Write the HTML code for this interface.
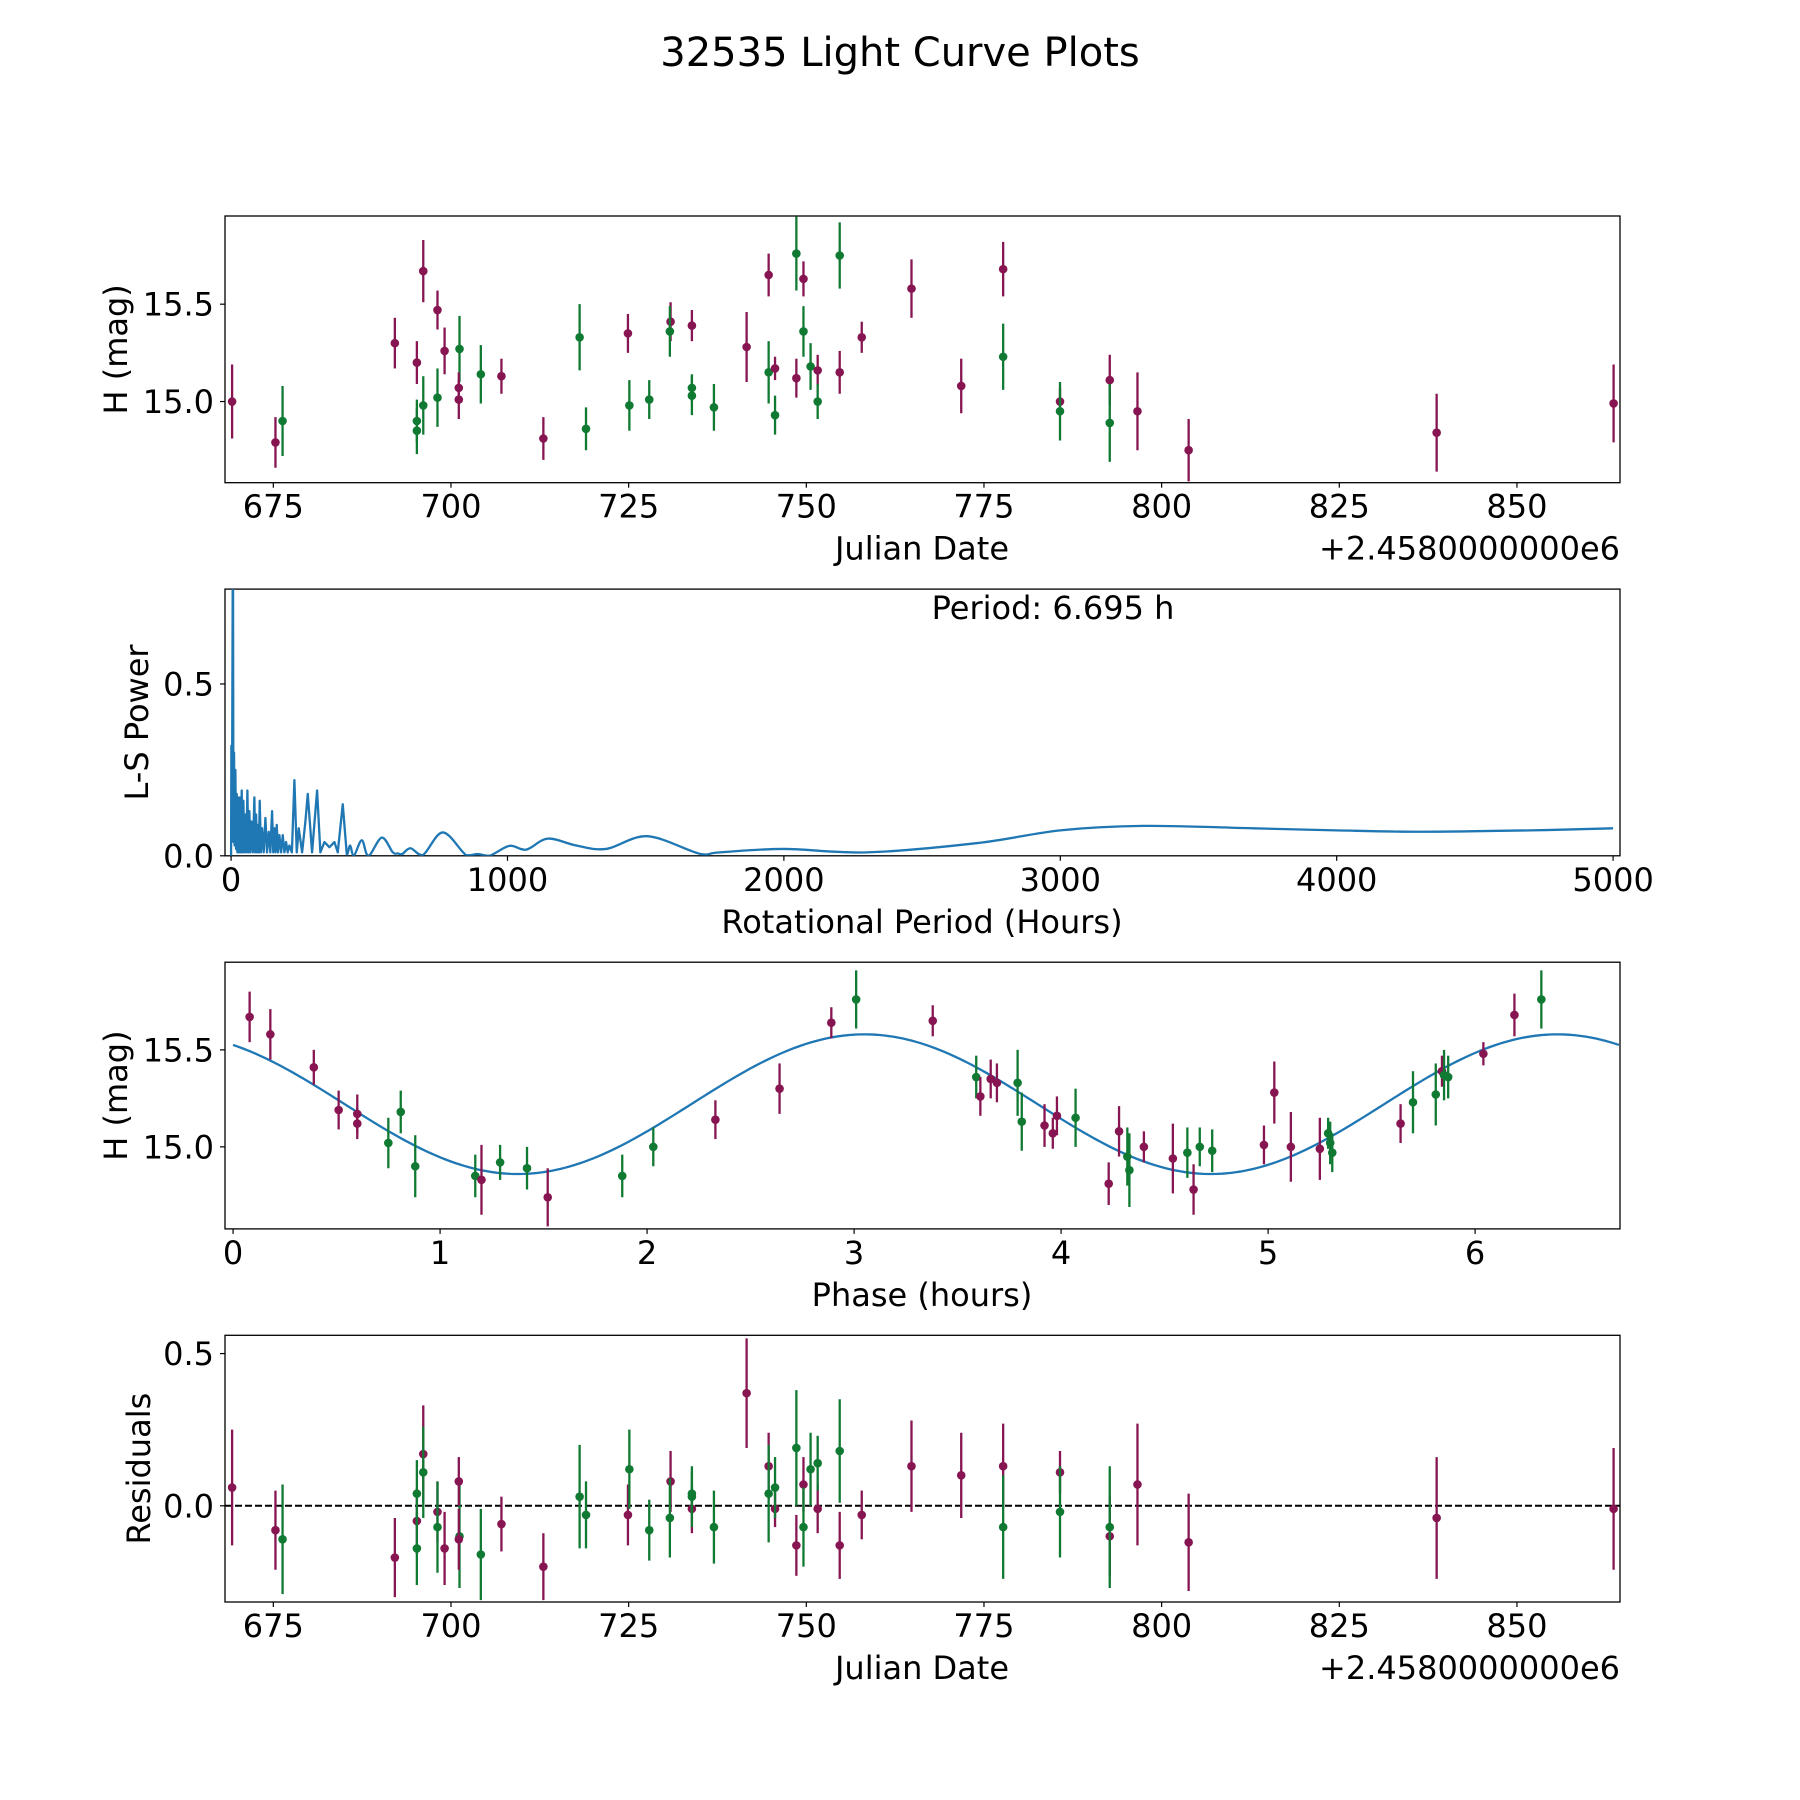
<!DOCTYPE html>
<html>
<head>
<meta charset="utf-8">
<style>
html,body{margin:0;padding:0;background:#fff;}
svg{display:block;}
text{font-family:"DejaVu Sans","Liberation Sans",sans-serif;fill:#000;}
</style>
</head>
<body>
<svg id="fig" width="1800" height="1800" viewBox="0 0 1800 1800" xmlns="http://www.w3.org/2000/svg">
  <defs id="clipdefs"></defs>
  <text x="900" y="66" font-size="40" text-anchor="middle">32535 Light Curve Plots</text>
  <g id="ax1"></g>
  <g id="ax2"></g>
  <g id="ax3"></g>
  <g id="ax4"></g>
</svg>
<script>
// ---------- data: light curve (Julian date offset, H mag, error, filter) ----------
const jdDates = [669.2,675.3,676.3,692.1,695.2,695.2,695.2,696.1,696.1,698.1,698.1,699.1,701.2,701.1,701.1,704.2,707.1,713.0,718.1,719.0,724.9,725.1,727.9,730.9,730.8,733.9,733.9,733.9,737.0,741.6,744.7,744.7,745.6,745.6,748.6,748.6,749.6,749.6,750.6,751.6,751.6,754.7,754.7,757.8,764.8,771.8,777.7,777.7,785.7,785.7,792.7,792.7,796.6,803.8,838.7,863.6];
const hMag = [15.00,14.79,14.90,15.30,15.20,14.90,14.85,15.67,14.98,15.47,15.02,15.26,15.27,15.07,15.01,15.14,15.13,14.81,15.33,14.86,15.35,14.98,15.01,15.41,15.36,15.39,15.07,15.03,14.97,15.28,15.65,15.15,15.17,14.93,15.76,15.12,15.63,15.36,15.18,15.16,15.00,15.75,15.15,15.33,15.58,15.08,15.68,15.23,15.00,14.95,15.11,14.89,14.95,14.75,14.84,14.99];
const hErr = [0.19,0.13,0.18,0.13,0.11,0.11,0.12,0.16,0.15,0.10,0.15,0.12,0.17,0.08,0.10,0.15,0.09,0.11,0.17,0.11,0.10,0.13,0.10,0.10,0.13,0.08,0.07,0.10,0.12,0.18,0.11,0.16,0.06,0.10,0.19,0.10,0.09,0.13,0.12,0.08,0.09,0.17,0.11,0.08,0.15,0.14,0.14,0.17,0.07,0.15,0.13,0.20,0.20,0.16,0.20,0.20];
const filters = ["p","p","g","p","p","g","g","p","g","p","g","p","g","p","p","g","p","p","g","g","p","g","g","p","g","p","g","g","g","p","p","g","p","g","g","p","p","g","g","p","g","g","p","p","p","p","p","g","p","g","p","g","p","p","p","p"];
const residuals = [0.06,-0.08,-0.11,-0.17,-0.05,0.04,-0.14,0.17,0.11,-0.02,-0.07,-0.14,-0.10,0.08,-0.11,-0.16,-0.06,-0.20,0.03,-0.03,-0.03,0.12,-0.08,0.08,-0.04,-0.01,0.04,0.03,-0.07,0.37,0.13,0.04,-0.01,0.06,0.19,-0.13,0.07,-0.07,0.12,-0.01,0.14,0.18,-0.13,-0.03,0.13,0.10,0.13,-0.07,0.11,-0.02,-0.10,-0.07,0.07,-0.12,-0.04,-0.01];

// ---------- data: phase folded ----------
const phaseHours = [0.08,0.18,0.39,0.51,0.60,0.60,0.75,0.81,0.88,1.17,1.20,1.29,1.42,1.52,1.88,2.03,2.33,2.64,2.89,3.01,3.38,3.59,3.61,3.66,3.69,3.79,3.81,3.92,3.96,3.98,4.07,4.23,4.28,4.32,4.33,4.40,4.54,4.61,4.64,4.67,4.73,4.98,5.03,5.11,5.25,5.29,5.30,5.31,5.64,5.70,5.81,5.84,5.85,5.87,6.04,6.19,6.32];
const phaseMag = [15.67,15.58,15.41,15.19,15.12,15.17,15.02,15.18,14.90,14.85,14.83,14.92,14.89,14.74,14.85,15.00,15.14,15.30,15.64,15.76,15.65,15.36,15.26,15.35,15.33,15.33,15.13,15.11,15.07,15.16,15.15,14.81,15.08,14.95,14.88,15.00,14.94,14.97,14.78,15.00,14.98,15.01,15.28,15.00,14.99,15.07,15.02,14.97,15.12,15.23,15.27,15.39,15.37,15.36,15.48,15.68,15.76];
const phaseErr = [0.13,0.13,0.09,0.10,0.08,0.10,0.13,0.11,0.16,0.11,0.18,0.09,0.11,0.15,0.11,0.10,0.10,0.13,0.08,0.15,0.08,0.11,0.10,0.10,0.10,0.17,0.15,0.11,0.08,0.10,0.15,0.11,0.13,0.15,0.19,0.08,0.18,0.13,0.13,0.10,0.11,0.10,0.16,0.18,0.16,0.08,0.11,0.10,0.10,0.16,0.16,0.08,0.13,0.11,0.06,0.11,0.15];
const phaseFilters = ["p","p","p","p","p","p","g","g","g","g","p","g","g","p","g","g","p","p","p","g","p","g","p","p","p","g","g","p","p","p","g","p","p","g","g","p","p","g","p","g","g","p","p","p","p","g","g","g","p","g","g","p","g","g","p","p","g"];
// sinusoid fit parameters: mean, amplitude, period (h), peak phase (h)
const fitMean = [15.22];
const fitAmp = [0.36];
const fitPeriod = [3.3475];
const fitPeak = [3.05];

// ---------- data: Lomb-Scargle periodogram ----------
const lsPeriod = [0,1.1,3,6.7,8.5,10.7,13,15.6,18,20.4,22.8,25.2,29,32.4,35.5,38.5,41.5,44.5,48,51.8,55.4,59,62.6,66.2,69.8,73.5,79,84.3,87.4,90.4,94,97.6,100.6,103.6,108,112.1,118,124.2,130,136.2,142,148.3,152.5,156.7,161,165.2,170,174.8,181,186.9,193,198.9,205,211,220,229.1,237.6,244.8,257,268.9,277.4,293,311.2,323,337.7,355.8,373.9,386,404,418.5,430.6,444,472.8,497,545.2,585,603,619,649,693.6,766,850.4,892.7,934.9,1007,1067.7,1146,1248.5,1357,1506,1695,1767,2000,2300,2700,3000,3300,3700,4000,4300,4700,5000];
const lsPower = [0.0,0.32,0.05,1.0,0.04,0.30,0.03,0.25,0.02,0.18,0.01,0.17,0.01,0.17,0.01,0.19,0.01,0.16,0.01,0.12,0.01,0.19,0.01,0.13,0.01,0.10,0.01,0.17,0.01,0.12,0.01,0.09,0.01,0.16,0.01,0.08,0.01,0.11,0.01,0.07,0.01,0.13,0.01,0.08,0.01,0.09,0.01,0.06,0.01,0.06,0.01,0.04,0.01,0.03,0.01,0.22,0.01,0.08,0.01,0.10,0.18,0.01,0.19,0.01,0.04,0.025,0.04,0.01,0.15,0.005,0.03,0.0,0.045,0.0,0.053,0.01,0.007,0.005,0.022,0.002,0.068,0.002,0.005,0.0,0.029,0.018,0.05,0.03,0.02,0.057,0.006,0.01,0.02,0.01,0.037,0.074,0.087,0.08,0.074,0.07,0.074,0.08];

// ---------- tick labels ----------
const jdTicks = [675,700,725,750,775,800,825,850];
const magTicks = [15.0,15.5];
const lsXTicks = [0,1000,2000,3000,4000,5000];
const lsYTicks = [0.0,0.5];
const phaseTicks = [0,1,2,3,4,5,6];
const resTicks = [0.0,0.5];

const NS = "http://www.w3.org/2000/svg";
const PURPLE = "#871552", GREEN = "#107a33", BLUE = "#1f77b4";
const L = 225, R = 1620;

function el(tag, attrs, parent) {
  const e = document.createElementNS(NS, tag);
  for (const k in attrs) e.setAttribute(k, String(attrs[k]));
  parent.appendChild(e);
  return e;
}
function scale(d0, d1, r0, r1) { return v => r0 + (v - d0) * (r1 - r0) / (d1 - d0); }
function num(v, dflt) { return (typeof v === "number" && isFinite(v)) ? v : dflt; }

function frame(g, top, bot) {
  const r = el("rect", {x: L, y: top, width: R - L, height: bot - top, fill: "none", stroke: "#000", "stroke-width": 1.3}, g);
  
  
}
function xTicks(g, ticks, sx, bot, fmt) {
  ticks.forEach(t => {
    const x = sx(t);
    const ln = el("line", {x1: x, x2: x, y1: bot, y2: bot + 5, stroke: "#000", "stroke-width": 1.2}, g);
    
    
    const tx = el("text", {x: x, y: bot + 35, "font-size": 32, "text-anchor": "middle"}, g);
    
    
    tx.textContent = fmt(t);
  });
}
function yTicks(g, ticks, sy, fmt) {
  ticks.forEach(t => {
    const y = sy(t);
    const ln = el("line", {x1: L - 5, x2: L, y1: y, y2: y, stroke: "#000", "stroke-width": 1.2}, g);
    
    
    const tx = el("text", {x: L - 11, y: y + 11.5, "font-size": 32, "text-anchor": "end"}, g);
    
    
    tx.textContent = fmt(t);
  });
}
function label(g, txt, x, y, rot, name, anchor) {
  const t = el("text", {x: x, y: y, "font-size": 32, "text-anchor": anchor || "middle"}, g);
  if (rot) t.setAttribute("transform", "rotate(-90 " + x + " " + y + ")");
  
  
  t.textContent = txt;
}
function errPoints(g, xs, ys, es, fs, sx, sy, clipId) {
  const cg = el("g", {"clip-path": "url(#" + clipId + ")"}, g);
  
  
  const n = Math.min(xs.length, ys.length);
  for (let i = 0; i < n; i++) {
    const xv = num(xs[i], NaN), yv = num(ys[i], NaN);
    if (!isFinite(xv) || !isFinite(yv)) continue;
    const ev = Math.abs(num(es[i], 0));
    const c = fs[i] === "g" ? GREEN : PURPLE;
    const x = sx(xv);
    const bar = el("line", {x1: x, x2: x, y1: sy(yv - ev), y2: sy(yv + ev), stroke: c, "stroke-width": 2.3}, cg);
    
    
    const dot = el("circle", {cx: x, cy: sy(yv), r: 4.3, fill: c}, cg);
    
    
  }
}
function clip(id, top, bot) {
  const defs = document.getElementById("clipdefs");
  const cp = el("clipPath", {id: id}, defs);
  el("rect", {x: L, y: top, width: R - L, height: bot - top}, cp);
}

const tops = [216, 589.1, 962.2, 1335.3];
const H = 266.7;
const fmt1 = v => Number(v).toFixed(1);
const fmtInt = v => String(v);

// ---- Panel 1: light curve ----
try {
  const g = document.getElementById("ax1");
  const top = tops[0], bot = top + H;
  const sx = scale(668.2, 864.5, L, R), sy = scale(14.583, 15.953, bot, top);
  clip("c1", top, bot);
  frame(g, top, bot);
  xTicks(g, jdTicks, sx, bot, fmtInt);
  yTicks(g, magTicks, sy, fmt1);
  label(g, "Julian Date", 922, bot + 77, false, "x-axis-title");
  label(g, "+2.4580000000e6", R, bot + 77, false, "x-offset-label", "end");
  label(g, "H (mag)", 127, (top + bot) / 2, true, "y-axis-title");
  errPoints(g, jdDates, hMag, hErr, filters, sx, sy, "c1");
} catch (e) { console.log(e); }

// ---- Panel 2: periodogram ----
try {
  const g = document.getElementById("ax2");
  const top = tops[1], bot = top + H;
  const sx = scale(-22, 5025, L, R), sy = scale(0, 0.776, bot, top);
  clip("c2", top, bot);
  frame(g, top, bot);
  xTicks(g, lsXTicks, sx, bot, fmtInt);
  yTicks(g, lsYTicks, sy, fmt1);
  label(g, "Rotational Period (Hours)", 922, bot + 77, false, "x-axis-title");
  label(g, "L-S Power", 148, (top + bot) / 2, true, "y-axis-title");
  label(g, "Period: 6.695 h", 1053, 619, false, "period-annotation");
  const cg = el("g", {"clip-path": "url(#c2)"}, g);
  const n = Math.min(lsPeriod.length, lsPower.length);
  const pts = [];
  for (let i = 0; i < n; i++) pts.push([sx(num(lsPeriod[i], 0)), sy(num(lsPower[i], 0)), num(lsPeriod[i], 0)]);
  let d = "";
  if (pts.length) d = "M" + pts[0][0].toFixed(2) + "," + pts[0][1].toFixed(2);
  for (let i = 1; i < pts.length; i++) {
    if (pts[i][2] <= 420) { d += "L" + pts[i][0].toFixed(2) + "," + pts[i][1].toFixed(2); continue; }
    const p0 = pts[i - 2] || pts[i - 1], p1 = pts[i - 1], p2 = pts[i], p3 = pts[i + 1] || pts[i];
    const c1x = p1[0] + (p2[0] - p0[0]) / 6, c1y = Math.min(p1[1] + (p2[1] - p0[1]) / 6, bot);
    const c2x = p2[0] - (p3[0] - p1[0]) / 6, c2y = Math.min(p2[1] - (p3[1] - p1[1]) / 6, bot);
    d += "C" + c1x.toFixed(2) + "," + c1y.toFixed(2) + " " + c2x.toFixed(2) + "," + c2y.toFixed(2) + " " + p2[0].toFixed(2) + "," + p2[1].toFixed(2);
  }
  const p = el("path", {d: d, fill: "none", stroke: BLUE, "stroke-width": 2.3, "stroke-linejoin": "round"}, cg);
  
  
} catch (e) { console.log(e); }

// ---- Panel 3: phase folded ----
try {
  const g = document.getElementById("ax3");
  const top = tops[2], bot = top + H;
  const sx = scale(-0.039, 6.70, L, R), sy = scale(14.577, 15.952, bot, top);
  clip("c3", top, bot);
  frame(g, top, bot);
  xTicks(g, phaseTicks, sx, bot, fmtInt);
  yTicks(g, magTicks, sy, fmt1);
  label(g, "Phase (hours)", 922, bot + 77, false, "x-axis-title");
  label(g, "H (mag)", 127, (top + bot) / 2, true, "y-axis-title");
  const cg = el("g", {"clip-path": "url(#c3)"}, g);
  let d = "";
  const N = 300, xmax = 6.695;
  const m = num(fitMean[0], 15.22), a = num(fitAmp[0], 0.36), per = num(fitPeriod[0], 3.3475) || 3.3475, pk = num(fitPeak[0], 3.05);
  for (let i = 0; i <= N; i++) {
    const x = xmax * i / N;
    const y = m + a * Math.cos(2 * Math.PI * (x - pk) / per);
    d += (i ? "L" : "M") + sx(x).toFixed(2) + "," + sy(y).toFixed(2);
  }
  const p = el("path", {d: d, fill: "none", stroke: BLUE, "stroke-width": 2.3}, cg);
  
  
  errPoints(g, phaseHours, phaseMag, phaseErr, phaseFilters, sx, sy, "c3");
} catch (e) { console.log(e); }

// ---- Panel 4: residuals ----
try {
  const g = document.getElementById("ax4");
  const top = tops[3], bot = top + H;
  const sx = scale(668.2, 864.5, L, R), sy = scale(-0.316, 0.560, bot, top);
  clip("c4", top, bot);
  const zl = el("line", {x1: L, x2: R, y1: sy(0), y2: sy(0), stroke: "#000", "stroke-width": 2, "stroke-dasharray": "7,3"}, g);
  
  
  frame(g, top, bot);
  xTicks(g, jdTicks, sx, bot, fmtInt);
  yTicks(g, resTicks, sy, fmt1);
  label(g, "Julian Date", 922, bot + 77, false, "x-axis-title");
  label(g, "+2.4580000000e6", R, bot + 77, false, "x-offset-label", "end");
  label(g, "Residuals", 150, (top + bot) / 2, true, "y-axis-title");
  errPoints(g, jdDates, residuals, hErr, filters, sx, sy, "c4");
} catch (e) { console.log(e); }
</script>
</body>
</html>
